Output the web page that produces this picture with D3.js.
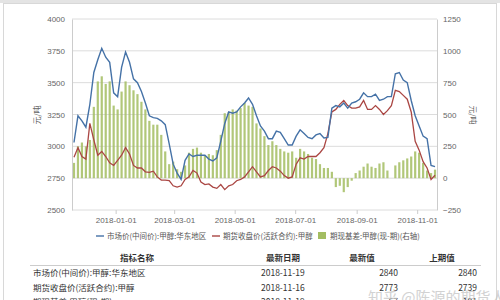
<!DOCTYPE html>
<html>
<head>
<meta charset="utf-8">
<script src="https://cdn.jsdelivr.net/npm/d3@7"></script>
<style>
  body { margin: 0; background: #fff; }
  svg { display: block; font-family: "Noto Sans CJK SC", "Noto Sans", sans-serif; }
</style>
</head>
<body>
<svg id="chart" width="500" height="300"></svg>
<script>
const dates = ["2017-11-20","2017-11-24","2017-11-28","2017-12-02","2017-12-06","2017-12-10","2017-12-14","2017-12-18","2017-12-22","2017-12-26",
  "2017-12-30","2018-01-03","2018-01-07","2018-01-11","2018-01-15","2018-01-19","2018-01-23","2018-01-27","2018-01-31","2018-02-04",
  "2018-02-08","2018-02-12","2018-02-16","2018-02-20","2018-02-24","2018-02-28","2018-03-04","2018-03-08","2018-03-12","2018-03-16",
  "2018-03-20","2018-03-24","2018-03-28","2018-04-01","2018-04-05","2018-04-09","2018-04-13","2018-04-17","2018-04-21","2018-04-25",
  "2018-04-29","2018-05-03","2018-05-07","2018-05-11","2018-05-15","2018-05-19","2018-05-23","2018-05-27","2018-05-31","2018-06-04",
  "2018-06-08","2018-06-12","2018-06-16","2018-06-20","2018-06-24","2018-06-28","2018-07-02","2018-07-06","2018-07-10","2018-07-14",
  "2018-07-18","2018-07-22","2018-07-26","2018-07-30","2018-08-03","2018-08-07","2018-08-11","2018-08-15","2018-08-19","2018-08-23",
  "2018-08-27","2018-08-31","2018-09-04","2018-09-08","2018-09-12","2018-09-16","2018-09-20","2018-09-24","2018-09-28","2018-10-02",
  "2018-10-06","2018-10-10","2018-10-14","2018-10-18","2018-10-22","2018-10-26","2018-10-30","2018-11-03","2018-11-07","2018-11-11",
  "2018-11-15","2018-11-19"];

// 市场价(中间价):甲醇:华东地区
const spot = [3030,3240,3200,3150,3330,3580,3680,3770,3700,3660,
  3420,3390,3620,3740,3660,3530,3500,3430,3340,3240,
  3225,3220,3200,3170,3020,2860,2790,2740,2890,2940,
  2920,2930,2930,2930,2900,2885,2910,3040,3180,3270,
  3260,3270,3310,3340,3380,3330,3240,3160,3120,3060,
  3060,3120,3110,3060,3010,3010,3080,3130,3100,3070,
  3060,3090,3100,3065,3070,3300,3320,3310,3340,3300,
  3340,3350,3370,3420,3390,3390,3410,3360,3370,3390,
  3390,3570,3580,3520,3500,3360,3240,3160,3080,3060,
  2850,2840];

// 期货收盘价(活跃合约):甲醇
const futures = [2915,2990,2920,2900,3180,3050,2930,2960,2920,2870,
  2850,2890,2930,2990,2940,2850,2830,2830,2800,2795,
  2805,2760,2735,2735,2730,2690,2680,2690,2740,2760,
  2810,2790,2720,2700,2705,2680,2670,2700,2660,2690,
  2700,2730,2740,2760,2800,2840,2800,2760,2770,2810,
  2840,2830,2805,2770,2750,2760,2860,2910,2900,2920,
  2920,2920,2950,2990,3100,3270,3290,3330,3360,3320,
  3300,3300,3310,3360,3290,3290,3320,3290,3250,3280,
  3320,3440,3430,3400,3370,3270,3040,2970,2880,2830,
  2740,2773];

// 期现基差:甲醇(现-期) (右轴)
const basis = [120,250,280,250,300,560,760,800,740,760,
  570,540,680,760,730,690,660,600,540,450,
  420,420,340,210,110,130,70,50,100,200,
  230,240,200,180,190,180,220,340,510,520,
  540,530,550,590,570,560,430,390,330,260,
  290,260,230,210,200,210,160,230,210,190,
  160,150,110,80,80,50,-70,-60,-110,-70,
  -20,40,60,90,115,90,80,115,125,60,
  0,100,125,140,155,170,210,200,120,60,
  40,67];

const leftTicks = [2500, 2750, 3000, 3250, 3500, 3750, 4000];
const rightTicks = [-250, 0, 250, 500, 750, 1000, 1250];
const xTicks = ["2018-01-01","2018-03-01","2018-05-01","2018-07-01","2018-09-01","2018-11-01"];

const seriesNames = ["市场价(中间价):甲醇:华东地区", "期货收盘价(活跃合约):甲醇", "期现基差:甲醇(现-期)(右轴)"];
const tableHead = ["指标名称", "最新日期", "最新值", "上期值"];
const tableRows = [
  ["市场价(中间价):甲醇:华东地区", "2018-11-19", "2840", "2840"],
  ["期货收盘价(活跃合约):甲醇", "2018-11-16", "2773", "2739"],
  ["期现基差:甲醇(现-期)", "2018-11-19", "67", "101"]
];

const colors = { spot: "#4572A7", fut: "#AA4643", basis: "#a3bd62" };

const parse = d3.timeParse("%Y-%m-%d");
const rows = dates.map((d, i) => ({ date: parse(d), spot: spot[i], fut: futures[i], basis: basis[i] }));

const svg = d3.select("#chart");

// outer frame
svg.append("rect").attr("x", 0).attr("y", 0).attr("width", 500).attr("height", 3).attr("fill", "#e4e4e4");
svg.append("rect").attr("x", 3.5).attr("y", 3.5).attr("width", 493).attr("height", 300)
  .attr("fill", "#fff").attr("stroke", "#d8d8d8");

const plotLeft = 72, plotRight = 437, plotTop = 19, plotBottom = 210;

const x = d3.scaleTime()
  .domain([parse("2017-11-18"), parse("2018-11-21")])
  .range([plotLeft, plotRight]);
const yL = d3.scaleLinear().domain([2500, 4000]).range([plotBottom, plotTop]);
const yR = d3.scaleLinear().domain([-250, 1250]).range([plotBottom, plotTop]);

// grid
svg.append("g")
  .selectAll("line")
  .data(leftTicks)
  .enter()
  .append("line")
  .attr("x1", plotLeft).attr("x2", plotRight)
  .attr("y1", (d) => yL(d)).attr("y2", (d) => yL(d))
  .attr("stroke", "#dcdcdc")
  .attr("stroke-width", 1);

// bars (right axis)
const barW = 2.2;
svg.append("g")
  .selectAll("rect")
  .data(rows)
  .enter()
  .append("rect")
  .attr("x", (d) => x(d.date) - barW / 2)
  .attr("width", barW)
  .attr("y", (d) => Math.min(yR(d.basis), yR(0)))
  .attr("height", (d) => Math.abs(yR(d.basis) - yR(0)))
  .attr("fill", colors.basis)
  .attr("opacity", 0.85);

const line = (key, scale) => d3.line().x((d) => x(d.date)).y((d) => scale(d[key]));

svg.append("path").datum(rows)
  .attr("d", line("fut", yL))
  .attr("fill", "none").attr("stroke", colors.fut).attr("stroke-width", 1.3);

svg.append("path").datum(rows)
  .attr("d", line("spot", yL))
  .attr("fill", "none").attr("stroke", colors.spot).attr("stroke-width", 1.4);

// axes
const styleAxis = (g) => {
  g.select(".domain").attr("stroke", "#ccc");
  g.selectAll("text").attr("fill", "#666").attr("font-size", 8);
  g.selectAll(".tick line").attr("stroke", "#ccc");
};

svg.append("g")
  .attr("transform", `translate(${plotLeft},0)`)
  .call(d3.axisLeft(yL).tickValues(leftTicks).tickFormat(d3.format("d")).tickSize(0).tickPadding(7))
  .call(styleAxis);

svg.append("g")
  .attr("transform", `translate(${plotRight},0)`)
  .call(d3.axisRight(yR).tickValues(rightTicks).tickFormat(d3.format("d")).tickSize(0).tickPadding(6))
  .call(styleAxis);

svg.append("g")
  .attr("transform", `translate(0,${plotBottom})`)
  .call(d3.axisBottom(x).tickValues(xTicks.map(parse)).tickFormat(d3.timeFormat("%Y-%m-%d")).tickSize(4).tickPadding(3))
  .call(styleAxis)
  .call((g) => g.select(".domain").remove());

// axis titles
svg.append("text")
  .attr("transform", "translate(40,115) rotate(-90)")
  .attr("text-anchor", "middle")
  .attr("font-size", 8).attr("fill", "#666")
  .text("元/吨");
svg.append("text")
  .attr("transform", "translate(470,115) rotate(90)")
  .attr("text-anchor", "middle")
  .attr("font-size", 8).attr("fill", "#666")
  .text("元/吨");

// legend
const legend = svg.append("g").attr("font-size", 7.5).attr("fill", "#555");
legend.append("line").attr("x1", 96).attr("x2", 104).attr("y1", 236).attr("y2", 236)
  .attr("stroke", colors.spot).attr("stroke-width", 1.4);
legend.append("text").attr("x", 107).attr("y", 239).text(seriesNames[0]);
legend.append("line").attr("x1", 212).attr("x2", 220).attr("y1", 236).attr("y2", 236)
  .attr("stroke", colors.fut).attr("stroke-width", 1.4);
legend.append("text").attr("x", 223).attr("y", 239).text(seriesNames[1]);
legend.append("rect").attr("x", 318).attr("y", 232).attr("width", 8).attr("height", 7)
  .attr("fill", colors.basis);
legend.append("text").attr("x", 330).attr("y", 239).text(seriesNames[2]);

// table
const cols = [
  { x: 137, rowX: 33, rowAnchor: "start" },
  { x: 283, rowX: 261, rowAnchor: "start" },
  { x: 362, rowX: 398, rowAnchor: "end" },
  { x: 442, rowX: 477, rowAnchor: "end" }
];
const table = svg.append("g").attr("font-size", 8.5).attr("fill", "#333");
table.selectAll("text.head")
  .data(tableHead)
  .enter()
  .append("text")
  .attr("x", (d, i) => cols[i].x)
  .attr("y", 261)
  .attr("text-anchor", "middle")
  .attr("font-weight", "bold")
  .text((d) => d);
table.append("line").attr("x1", 30).attr("x2", 481).attr("y1", 265.5).attr("y2", 265.5)
  .attr("stroke", "#ccc");
tableRows.forEach((r, ri) => {
  table.selectAll(null)
    .data(r)
    .enter()
    .append("text")
    .attr("x", (d, i) => cols[i].rowX)
    .attr("y", 276 + ri * 14.5)
    .attr("text-anchor", (d, i) => cols[i].rowAnchor)
    .text((d) => d);
});

// watermark
svg.append("text")
  .attr("x", 368).attr("y", 303)
  .attr("font-size", 15)
  .attr("fill", "#c8c8c8")
  .attr("opacity", 0.8)
  .text("知乎 @陈源的期货人生");
</script>
</body>
</html>
